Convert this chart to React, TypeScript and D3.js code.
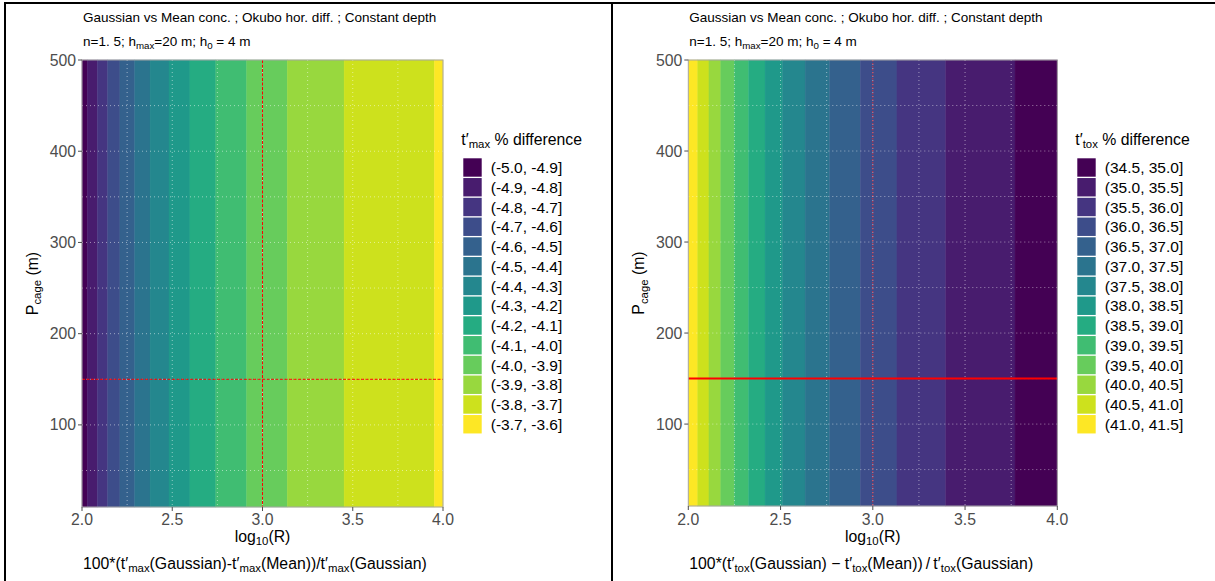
import React from "react";
import * as d3 from "d3";

// ---------- data ----------
const X_TICKS = [2.0, 2.5, 3.0, 3.5, 4.0];
const X_MINOR = [2.25, 2.75, 3.25, 3.75];
const Y_TICKS = [100, 200, 300, 400, 500];
const Y_MINOR = [50, 150, 250, 350, 450];
const X_DOMAIN = [2.0, 4.0];
const Y_DOMAIN = [10, 500];
const REF_R = 3.0;
const REF_P = 150;

const LEFT_LEGEND = [
  "(-5.0, -4.9]", "(-4.9, -4.8]", "(-4.8, -4.7]", "(-4.7, -4.6]", "(-4.6, -4.5]",
  "(-4.5, -4.4]", "(-4.4, -4.3]", "(-4.3, -4.2]", "(-4.2, -4.1]", "(-4.1, -4.0]",
  "(-4.0, -3.9]", "(-3.9, -3.8]", "(-3.8, -3.7]", "(-3.7, -3.6]",
];
// log10(R) edges of the constant-colour bands, and the legend bin of each band
const LEFT_EDGES = [2.0, 2.029, 2.085, 2.142, 2.21, 2.292, 2.377, 2.482, 2.598, 2.741, 2.912, 3.137, 3.452, 3.952, 4.0];
const LEFT_BINS = [0, 1, 2, 3, 4, 5, 6, 7, 8, 9, 10, 11, 12, 13];

const RIGHT_LEGEND = [
  "(34.5, 35.0]", "(35.0, 35.5]", "(35.5, 36.0]", "(36.0, 36.5]", "(36.5, 37.0]",
  "(37.0, 37.5]", "(37.5, 38.0]", "(38.0, 38.5]", "(38.5, 39.0]", "(39.0, 39.5]",
  "(39.5, 40.0]", "(40.0, 40.5]", "(40.5, 41.0]", "(41.0, 41.5]",
];
const RIGHT_EDGES = [2.0, 2.051, 2.112, 2.176, 2.249, 2.327, 2.416, 2.512, 2.633, 2.766, 2.932, 3.131, 3.395, 3.771, 4.0];
const RIGHT_BINS = [13, 12, 11, 10, 9, 8, 7, 6, 5, 4, 3, 2, 1, 0];

type Part = [string, boolean]; // [text, isSubscript]

const TITLE1 = "Gaussian vs Mean conc. ; Okubo hor. diff. ; Constant depth";
const TITLE2: Part[] = [["n=1. 5; h", false], ["max", true], ["=20 m; h", false], ["0", true], [" = 4 m", false]];
const LEFT_LEG_TITLE: Part[] = [["t′", false], ["max", true], [" % difference", false]];
const RIGHT_LEG_TITLE: Part[] = [["t′", false], ["tox", true], [" % difference", false]];
const LEFT_CAPTION: Part[] = [
  ["100*(t′", false], ["max", true], ["(Gaussian)-t′", false], ["max", true],
  ["(Mean))/t′", false], ["max", true], ["(Gaussian)", false],
];
const RIGHT_CAPTION: Part[] = [
  ["100*(t′", false], ["tox", true], ["(Gaussian) − t′", false], ["tox", true],
  ["(Mean))\u2009/\u2009t′", false], ["tox", true], ["(Gaussian)", false],
];
const X_TITLE: Part[] = [["log", false], ["10", true], ["(R)", false]];
const Y_TITLE: Part[] = [["P", false], ["cage", true], [" (m)", false]];

const FONT = "'Liberation Sans', Arial, Helvetica, sans-serif";

function Rich({ parts, size, ...rest }: { parts: Part[]; size: number; [k: string]: any }) {
  const shift = size * 0.22;
  let sub = false;
  const spans = parts.map(([t, s], i) => {
    let dy = 0;
    if (s && !sub) dy = shift;
    if (!s && sub) dy = -shift;
    sub = s;
    return (
      <tspan key={i} dy={dy} fontSize={s ? size * 0.72 : size}>
        {t}
      </tspan>
    );
  });
  return (
    <text fontSize={size} fontFamily={FONT} {...rest}>
      {spans}
    </text>
  );
}

type PanelProps = {
  x0: number;
  x1: number;
  y0: number;
  y1: number;
  edges: number[];
  bins: number[];
  legend: string[];
  legTitle: Part[];
  caption: Part[];
  legX: number;
  rightStyle: boolean;
};

function Panel(p: PanelProps) {
  const xs = d3.scaleLinear().domain(X_DOMAIN).range([p.x0, p.x1]);
  const ys = d3.scaleLinear().domain(Y_DOMAIN).range([p.y1, p.y0]);
  const color = (k: number) => d3.interpolateViridis(k / (p.legend.length - 1));
  const tickCol = "#4d4d4d";
  const keyStep = 19.75;
  const keyTop = 158.3;
  return (
    <g>
      {/* title */}
      <text x={p.x0 + 1} y={22} fontSize={13.5} fontFamily={FONT} fill="#000">
        {TITLE1}
      </text>
      <Rich parts={TITLE2} size={13.5} x={p.x0 + 1} y={46} fill="#000" />

      {/* tiles */}
      {p.bins.map((b, i) => (
        <rect
          key={i}
          x={xs(p.edges[i])}
          y={p.y0}
          width={xs(p.edges[i + 1]) - xs(p.edges[i])}
          height={p.y1 - p.y0}
          fill={color(b)}
          stroke={color(b)}
          strokeWidth={0.4}
        />
      ))}

      {/* grid on top */}
      {[...X_TICKS.slice(1, -1), ...X_MINOR].map((v) => (
        <line key={"gx" + v} x1={xs(v)} x2={xs(v)} y1={p.y0} y2={p.y1}
          stroke="rgba(255,255,255,0.5)" strokeWidth={1} strokeDasharray="1,3" />
      ))}
      {[...Y_TICKS, ...Y_MINOR].filter((v) => v < 500).map((v) => (
        <line key={"gy" + v} x1={p.x0} x2={p.x1} y1={ys(v)} y2={ys(v)}
          stroke="rgba(255,255,255,0.5)" strokeWidth={1} strokeDasharray="1,3" />
      ))}

      {/* reference lines */}
      {p.rightStyle ? (
        <g>
          <line x1={xs(REF_R)} x2={xs(REF_R)} y1={p.y0} y2={p.y1}
            stroke="rgba(255,40,40,0.75)" strokeWidth={1} strokeDasharray="1.5,1.5" />
          <line x1={p.x0} x2={p.x1} y1={ys(REF_P)} y2={ys(REF_P)} stroke="#ff0000" strokeWidth={2} />
        </g>
      ) : (
        <g>
          <line x1={xs(REF_R)} x2={xs(REF_R)} y1={p.y0} y2={p.y1}
            stroke="#ff0000" strokeWidth={1} strokeDasharray="3,1.5" />
          <line x1={p.x0} x2={p.x1} y1={ys(REF_P)} y2={ys(REF_P)}
            stroke="#ff0000" strokeWidth={1} strokeDasharray="3,1.5" />
        </g>
      )}

      {/* panel border */}
      <rect x={p.x0} y={p.y0} width={p.x1 - p.x0} height={p.y1 - p.y0}
        fill="none" stroke="#a6a6a6" strokeWidth={1} />

      {/* y axis */}
      {Y_TICKS.map((v) => (
        <g key={"yt" + v}>
          <line x1={p.x0 - 4} x2={p.x0} y1={ys(v)} y2={ys(v)} stroke={tickCol} strokeWidth={1} />
          <text x={p.x0 - 6} y={ys(v)} dy="0.35em" textAnchor="end" fontSize={15.8}
            fontFamily={FONT} fill={tickCol}>
            {v}
          </text>
        </g>
      ))}
      {/* x axis */}
      {X_TICKS.map((v) => (
        <g key={"xt" + v}>
          <line x1={xs(v)} x2={xs(v)} y1={p.y1} y2={p.y1 + 4} stroke={tickCol} strokeWidth={1} />
          <text x={xs(v)} y={525} textAnchor="middle" fontSize={15.8} fontFamily={FONT} fill={tickCol}>
            {d3.format(".1f")(v)}
          </text>
        </g>
      ))}
      <Rich parts={X_TITLE} size={15.8} x={(p.x0 + p.x1) / 2} y={542} textAnchor="middle" fill="#000" />
      <Rich parts={Y_TITLE} size={15.8} x={0} y={0} textAnchor="middle" fill="#000"
        transform={`translate(${p.x0 - 44},${(p.y0 + p.y1) / 2}) rotate(-90)`} />

      {/* caption */}
      <Rich parts={p.caption} size={15.8} x={p.x0 + 1} y={569} fill="#000" />

      {/* legend */}
      <Rich parts={p.legTitle} size={15.8} x={p.legX - 2} y={145} fill="#000" />
      {p.legend.map((lab, k) => (
        <g key={"lg" + k}>
          <rect x={p.legX} y={keyTop + k * keyStep} width={18.4} height={18.4} fill={color(k)} />
          <text x={p.legX + 27.5} y={keyTop + k * keyStep + 9.2} dy="0.36em" fontSize={15.5}
            fontFamily={FONT} fill="#000">
            {lab}
          </text>
        </g>
      ))}
    </g>
  );
}

export default function App() {
  return (
    <svg width={1215} height={581} style={{ position: "absolute", left: 0, top: 0, background: "#fff" }}>
      <rect x={0} y={0} width={1215} height={581} fill="#fff" />
      <Panel x0={82} x1={443} y0={60} y1={507} edges={LEFT_EDGES} bins={LEFT_BINS}
        legend={LEFT_LEGEND} legTitle={LEFT_LEG_TITLE} caption={LEFT_CAPTION} legX={463.3} rightStyle={false} />
      <Panel x0={688.3} x1={1057.3} y0={60} y1={506} edges={RIGHT_EDGES} bins={RIGHT_BINS}
        legend={RIGHT_LEGEND} legTitle={RIGHT_LEG_TITLE} caption={RIGHT_CAPTION} legX={1077.3} rightStyle={true} />
      {/* table frame */}
      <line x1={4} x2={1215} y1={3} y2={3} stroke="#000" strokeWidth={2} />
      <line x1={5} x2={5} y1={2} y2={581} stroke="#000" strokeWidth={2} />
      <line x1={612} x2={612} y1={2} y2={581} stroke="#000" strokeWidth={2} />
    </svg>
  );
}
